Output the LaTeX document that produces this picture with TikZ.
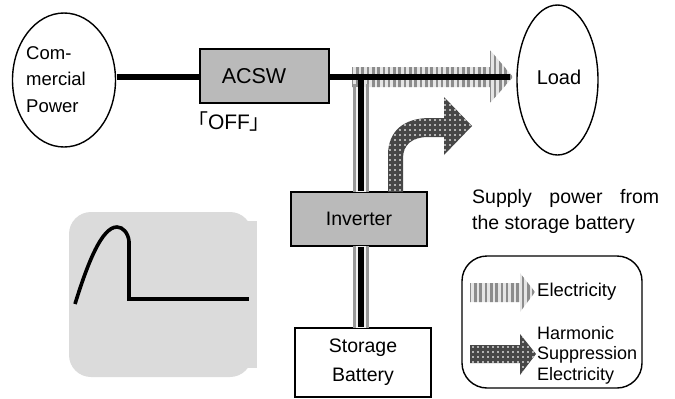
\documentclass[tikz,border=0pt]{standalone}
\usepackage{fontspec}
\setmainfont{Liberation Sans}
\newfontfamily\cjkf{Noto Sans CJK JP}
\usetikzlibrary{shapes.geometric}
\newcommand{\stripegrid}[4]{%
  \fill[white!80!gray] (#1,#3) rectangle (#2,#4);
  \pgfmathsetmacro{\nx}{#1+5.3}
  \foreach \sx in {#1,\nx,...,#2}{\draw[stripeline] (\sx,#3) -- (\sx,#4);}%
}
\newcommand{\dotgrid}[4]{%
  \fill[dotdark] (#1,#3) rectangle (#2,#4);
  \pgfmathsetmacro{\nx}{#1+5}
  \pgfmathsetmacro{\ny}{#3+5}
  \foreach \sx in {#1,\nx,...,#2}{\foreach \sy in {#3,\ny,...,#4}{\fill[dotlight] (\sx-1.2,\sy-1.2) rectangle (\sx+1.2,\sy+1.2);}}%
}
\tikzset{
  stripeline/.style={draw=black!45,line width=2.6pt},
  bus/.style={line width=6pt,black},
  box/.style={draw=black,line width=1.4pt,rectangle,inner sep=0pt,font=\fontsize{19.5}{22}\selectfont},
  graybox/.style={box,fill=black!27},
  oval/.style={draw=black,line width=1.4pt,shape=ellipse,inner sep=0pt},
  lbl/.style={inner sep=0pt,font=\fontsize{18.5}{26}\selectfont,align=left},
  dotdark/.style={fill=black!72},
  dotlight/.style={fill=black!30},
}
\begin{document}
\begin{tikzpicture}[x=1pt,y=-1pt]
\useasboundingbox (0,0) rectangle (675,399);
% gray panel
\fill[black!14,rounded corners=22pt] (69,212) rectangle (252,377);
\fill[black!14] (235,221) rectangle (257,368);
\draw[line width=3.6pt] (75,304) .. controls (88,262) and (102,227) .. (117,227) .. controls (123,227) and (128,233) .. (129,241);
\draw[line width=3.6pt,line join=miter] (129,241) -- (129,299) -- (249,299);
% ovals
\node[oval,minimum width=103pt,minimum height=134pt] (commercial) at (64,80) {};
\node[oval,minimum width=81pt,minimum height=150pt] (load) at (557.5,80) {};
\node[lbl,anchor=west,font=\fontsize{18.5}{26.5}\selectfont] (ctext) at (26,79.5) {Com-\\mercial\\Power};
\node[lbl,font=\fontsize{20}{24}\selectfont] (ltext) at (559,77) {Load};
% boxes
\node[graybox,minimum width=129pt,minimum height=54pt,font=\fontsize{21.5}{24}\selectfont] (acsw) at (264.5,76) {\raisebox{-3pt}{ACSW\hspace{21pt}}};
\node[graybox,minimum width=136pt,minimum height=54pt] (inverter) at (359,219) {\raisebox{-2pt}{Inverter}};
\node[box,fill=white,minimum width=136pt,minimum height=69pt,align=center,font=\fontsize{19.5}{29}\selectfont] (storage) at (363,362.5) {Storage\\Battery};
\node[inner sep=0pt,font=\fontsize{21}{24}\selectfont] (off) at (229,122) {{\cjkf 「}OFF{\cjkf 」}};
% striped main arrow
\begin{scope}
  \clip (352,67) -- (490,67) -- (490,50) -- (513,77) -- (490,103) -- (490,87) -- (352,87) -- cycle;
  \stripegrid{352}{514}{50}{103}
\end{scope}
% vertical grey stripes
\begin{scope}
  \fill[white!90!gray] (353,87) rectangle (369,192);
  \fill[white!90!gray] (353,246) rectangle (369,328);
  \foreach \sx in {354.5,367.5}{
    \draw[black!40,line width=3pt] (\sx,84) -- (\sx,192);
    \draw[black!40,line width=3pt] (\sx,246) -- (\sx,328);
  }
\end{scope}
% dark curved arrow
\begin{scope}
  \clip (388,192) -- (388,155) .. controls (388,130) and (405,118) .. (430,118) -- (444,118) -- (444,97) -- (472,126) -- (444,155) -- (444,137) -- (428,137) .. controls (412,137) and (403,145) .. (403,158) -- (403,192) -- cycle;
  \dotgrid{385}{475}{95}{195}
\end{scope}
% connectors
\coordinate (busL) at (117,77);
\coordinate (busR) at (510,77);
\coordinate (junction) at (360.5,77);
\draw[bus] (busL) -- (acsw.west |- busL);
\draw[bus] (acsw.east |- busR) -- (busR);
\draw[bus] (junction) -- (junction |- inverter.north);
\draw[bus] (junction |- inverter.south) -- (junction |- storage.north);
% text
\node[inner sep=0pt,anchor=west,font=\fontsize{19.5}{26}\selectfont,align=left] (note) at (472,211) {\hbox to 187pt{Supply\hfill power\hfill from}\\the storage battery};
% legend
\draw[line width=1.4pt,rounded corners=25pt] (462,256) rectangle (642,388);
\begin{scope}
  \clip (470,283) -- (520,283) -- (520,273) -- (535,292) -- (520,312) -- (520,302) -- (470,302) -- cycle;
  \stripegrid{470}{536}{270}{315}
\end{scope}
\begin{scope}
  \clip (470,345) -- (520,345) -- (520,334) -- (536,354) -- (520,375) -- (520,363) -- (470,363) -- cycle;
  \dotgrid{468}{538}{332}{377}
\end{scope}
\node[lbl,anchor=west] (legA) at (537,292) {Electricity};
\node[lbl,anchor=west,font=\fontsize{18}{20.5}\selectfont] (legB) at (537,355) {Harmonic\\Suppression\\Electricity};
\end{tikzpicture}
\end{document}
